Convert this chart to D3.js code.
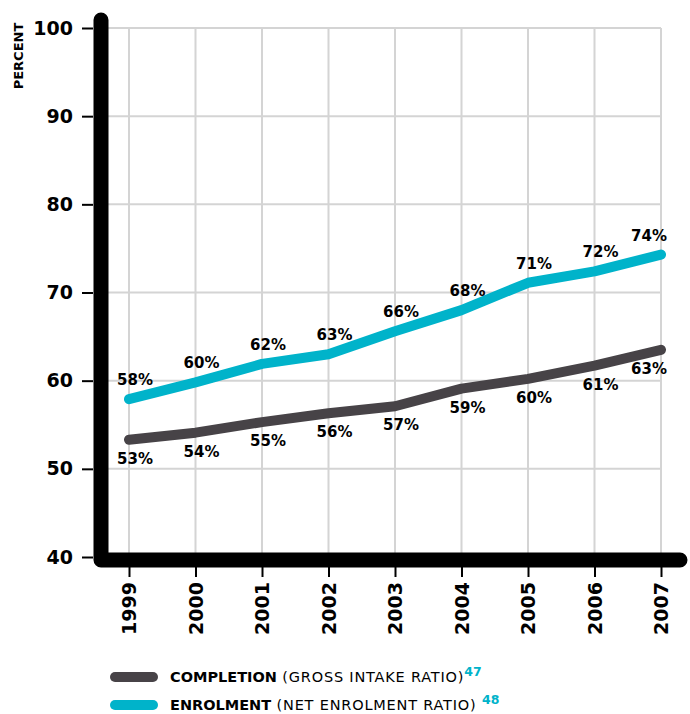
<!DOCTYPE html>
<html>
<head>
<meta charset="utf-8">
<script src="https://cdn.jsdelivr.net/npm/d3@7"></script>
<style>
  body { margin: 0; background: #fff; }
  text { font-family: "DejaVu Sans", sans-serif; }
</style>
</head>
<body>
<script>
const years = ['1999', '2000', '2001', '2002', '2003', '2004', '2005', '2006', '2007']
const enrolment = [57.9, 59.8, 61.9, 63.0, 65.6, 68.0, 71.1, 72.4, 74.3]
const completion = [53.3, 54.1, 55.3, 56.3, 57.1, 59.1, 60.2, 61.7, 63.5]
const enrolmentLabels = ['58%', '60%', '62%', '63%', '66%', '68%', '71%', '72%', '74%']
const completionLabels = ['53%', '54%', '55%', '56%', '57%', '59%', '60%', '61%', '63%']
const yTicks = [40, 50, 60, 70, 80, 90, 100]

const cyan = '#00b3ca'
const grey = '#474347'

let width = 690, height = 714

let x = d3.scalePoint()
  .domain(years)
  .range([129, 661])

let y = d3.scaleLinear()
  .domain([40, 100])
  .range([557, 28])

let svg = d3.select('body').append('svg')
  .attr('width', width)
  .attr('height', height)

// grid
svg.append('g')
  .selectAll('line')
  .data(yTicks.filter((d) => d > 40))
  .enter().append('line')
    .attr('x1', 101).attr('x2', 661)
    .attr('y1', y).attr('y2', y)
    .attr('stroke', '#d4d4d4')
    .attr('stroke-width', 2)

svg.append('g')
  .selectAll('line')
  .data(years)
  .enter().append('line')
    .attr('x1', x).attr('x2', x)
    .attr('y1', y(100)).attr('y2', 560)
    .attr('stroke', '#d4d4d4')
    .attr('stroke-width', 2)

// y axis
let yAxis = svg.append('g')
  .attr('transform', 'translate(93,0)')
  .call(d3.axisLeft(y).tickValues(yTicks).tickSize(11).tickPadding(9))
yAxis.select('.domain').remove()
yAxis.selectAll('line').attr('stroke', '#000').attr('stroke-width', 2)
yAxis.selectAll('text')
  .attr('fill', '#000')
  .attr('font-size', 19)
  .attr('font-weight', 'bold')
  .attr('font-family', '"DejaVu Sans", sans-serif')

// x axis
let xAxis = svg.append('g')
  .attr('transform', 'translate(0,567)')
  .call(d3.axisBottom(x).tickSize(10).tickPadding(0))
xAxis.select('.domain').remove()
xAxis.selectAll('line').attr('stroke', '#000').attr('stroke-width', 2)
xAxis.selectAll('text')
  .attr('fill', '#000')
  .attr('font-size', 19)
  .attr('font-weight', 'bold')
  .attr('font-family', '"DejaVu Sans", sans-serif')
  .attr('text-anchor', 'end')
  .attr('transform', 'translate(0,15) rotate(-90)')
  .attr('dy', '0.35em')
  .attr('y', 0)
  .attr('x', 0)

// thick frame
svg.append('path')
  .attr('d', 'M101,20 L101,560 L680,560')
  .attr('fill', 'none')
  .attr('stroke', '#000')
  .attr('stroke-width', 15)
  .attr('stroke-linecap', 'round')
  .attr('stroke-linejoin', 'round')

svg.append('text')
  .attr('transform', 'translate(23,56) rotate(-90)')
  .attr('text-anchor', 'middle')
  .attr('font-size', 13)
  .attr('font-weight', 'bold')
  .text('PERCENT')

let line = d3.line()
  .x((d, i) => x(years[i]))
  .y((d) => y(d))

svg.append('path')
  .attr('d', line(completion))
  .attr('fill', 'none')
  .attr('stroke', grey)
  .attr('stroke-width', 10)
  .attr('stroke-linecap', 'round')
  .attr('stroke-linejoin', 'round')

svg.append('path')
  .attr('d', line(enrolment))
  .attr('fill', 'none')
  .attr('stroke', cyan)
  .attr('stroke-width', 10)
  .attr('stroke-linecap', 'round')
  .attr('stroke-linejoin', 'round')

let last = years.length - 1

svg.append('g')
  .selectAll('text')
  .data(enrolment)
  .enter().append('text')
    .attr('x', (d, i) => x(years[i]) + (i === last ? -12 : 6))
    .attr('y', (d) => y(d) - 14)
    .attr('text-anchor', 'middle')
    .attr('font-size', 15)
    .attr('font-weight', 'bold')
    .text((d, i) => enrolmentLabels[i])

svg.append('g')
  .selectAll('text')
  .data(completion)
  .enter().append('text')
    .attr('x', (d, i) => x(years[i]) + (i === last ? -12 : 6))
    .attr('y', (d) => y(d) + 24)
    .attr('text-anchor', 'middle')
    .attr('font-size', 15)
    .attr('font-weight', 'bold')
    .text((d, i) => completionLabels[i])

// legend
let legend = [
  { color: grey, bold: 'COMPLETION', rest: ' (GROSS INTAKE RATIO)', note: '47' },
  { color: cyan, bold: 'ENROLMENT', rest: ' (NET ENROLMENT RATIO) ', note: '48' }
]

let lg = svg.selectAll('.legend')
  .data(legend)
  .enter().append('g')
    .attr('class', 'legend')
    .attr('transform', (d, i) => 'translate(0,' + (677 + i * 28) + ')')

lg.append('line')
  .attr('x1', 115).attr('x2', 153)
  .attr('stroke', (d) => d.color)
  .attr('stroke-width', 10)
  .attr('stroke-linecap', 'round')

let lt = lg.append('text')
  .attr('x', 170)
  .attr('y', 5)
  .attr('font-size', 14.5)
lt.append('tspan').attr('font-weight', 'bold').text((d) => d.bold)
lt.append('tspan').attr('letter-spacing', 0.8).text((d) => d.rest)
lt.append('tspan')
  .attr('dy', -6)
  .attr('font-size', 12.5)
  .attr('font-weight', 'bold')
  .attr('fill', cyan)
  .text((d) => d.note)
</script>
</body>
</html>
